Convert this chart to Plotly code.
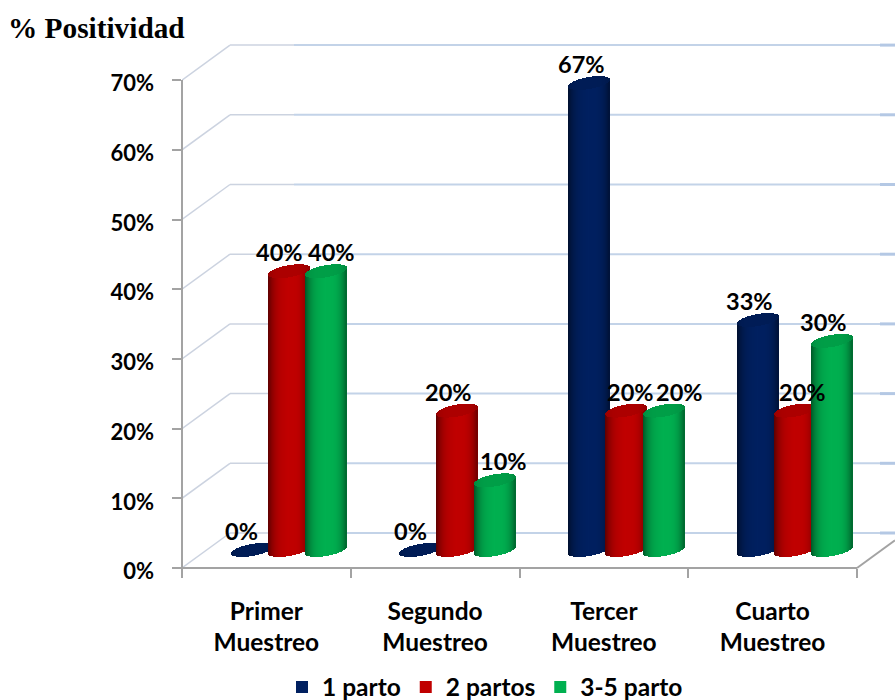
import numpy as np
import plotly.graph_objects as go

# Chart data
categories = ["Primer<br>Muestreo", "Segundo<br>Muestreo", "Tercer<br>Muestreo", "Cuarto<br>Muestreo"]
series_names = ["1 parto", "2 partos", "3-5 parto"]
uno_parto = [0, 0, 67, 33]
dos_partos = [40, 20, 20, 20]
tres_cinco_parto = [40, 10, 20, 30]
y_ticks = [0, 10, 20, 30, 40, 50, 60, 70]
y_tick_labels = ["0%", "10%", "20%", "30%", "40%", "50%", "60%", "70%"]

series_values = [uno_parto, dos_partos, tres_cinco_parto]
series_colors = [(0, 32, 96), (192, 0, 0), (0, 176, 80)]

# Pixel scale of the plot area
PX_X = 168.75          # pixels per category
PX_Y = 6.97            # pixels per percentage point
LEFT, RIGHT, TOP, BASELINE = 182, 895, 43, 568
BELOW = 6              # spare pixels under the baseline, room for the lowered tick labels
x_max = (RIGHT - LEFT) / PX_X
y_max = (BASELINE - TOP) / PX_Y
y_min = -BELOW / PX_Y
plot_height = BASELINE + BELOW - TOP

# Pseudo 3D box
WALL_DX = 48 / PX_X
WALL_DY = 35 / PX_Y
BAR_LIFT = 18 / PX_Y   # cylinders stand mid-way into the floor
BAR_OFFSETS = [-14.5 / PX_X, 22.5 / PX_X, 60 / PX_X]
BAR_RADIUS_PX = 20.5
CAP_RY = 6 / PX_Y
CAP_SHEAR = 3.5 / PX_Y
TICK_LABEL_DROP = 3.5 / PX_Y

FONT = "Lato"


def shade(rgb, factor):
    return "rgb({},{},{})".format(*[int(min(255, c * factor)) for c in rgb])


def cylinder(center, value, rgb):
    """Thin vertical strips forming the body and top cap of one cylinder."""
    px = np.arange(-BAR_RADIUS_PX + 0.5, BAR_RADIUS_PX, 1.0)
    t = px / BAR_RADIUS_PX
    arc = CAP_RY * np.sqrt(1 - t ** 2)
    x = center + px / PX_X
    top = value + BAR_LIFT + CAP_SHEAR * t
    bottom = BAR_LIFT + CAP_SHEAR * t - arc
    body_shade = [shade(rgb, 1.0 - 0.42 * abs(v) ** 3.5 - (0.10 * max(-v, 0))) for v in t]
    cap_shade = [shade(rgb, 0.90 - 0.12 * abs(v) ** 4) for v in t]
    return x, bottom, top, arc, body_shade, cap_shade


fig = go.Figure()

for name, values, rgb, offset in zip(series_names, series_values, series_colors, BAR_OFFSETS):
    for i, value in enumerate(values):
        x, bottom, top, arc, body_shade, cap_shade = cylinder(i + 0.5 + offset, value, rgb)
        fig.add_trace(go.Bar(
            x=x, y=top - bottom, base=bottom, width=1.35 / PX_X,
            marker=dict(color=body_shade, line_width=0),
            showlegend=False, hoverinfo="skip",
        ))
        fig.add_trace(go.Bar(
            x=x, y=2 * arc, base=top - arc, width=1.35 / PX_X,
            marker=dict(color=cap_shade, line_width=0),
            showlegend=False, hoverinfo="skip",
        ))

# Legend entries
for name, rgb in zip(series_names, series_colors):
    fig.add_trace(go.Scatter(
        x=[None], y=[None], mode="markers", name=name,
        marker=dict(symbol="square", size=14, color=shade(rgb, 1)),
    ))

# Empty trace that keeps the label-only y axis alive
fig.add_trace(go.Scatter(x=[None], y=[None], yaxis="y2", showlegend=False, hoverinfo="skip"))

# Value labels, nudged sideways where neighbouring labels would collide
label_dx = [[-10, -10, -8, -9], [-9, -9, 4, 7], [5, 8, 16, -9]]
annotations = []
for values, offset, dxs in zip(series_values, BAR_OFFSETS, label_dx):
    for i, (value, dx) in enumerate(zip(values, dxs)):
        annotations.append(dict(
            x=i + 0.5 + offset, y=value + BAR_LIFT, text=f"{value}%",
            xref="x", yref="y", showarrow=False, xshift=dx, yshift=19,
            font=dict(family=FONT, size=23.5, color="black", weight=700),
        ))

# Walls, floor edge and axis lines
shapes = []
GRID_GREY = "#ccd3e0"
GRID_BLUE = "#c3d3e8"
GRID_EDGE = "#b4c8e4"
for v in y_ticks:
    back = v + WALL_DY
    shapes.append(dict(type="line", x0=0, y0=v, x1=WALL_DX, y1=back,
                       line=dict(color=GRID_GREY, width=1.5), layer="below"))
    shapes.append(dict(type="line", x0=WALL_DX, y0=back, x1=88 / PX_X + WALL_DX / 2, y1=back,
                       line=dict(color=GRID_GREY, width=1.5), layer="below"))
    shapes.append(dict(type="line", x0=88 / PX_X + WALL_DX / 2, y0=back, x1=x_max - 15 / PX_X, y1=back,
                       line=dict(color=GRID_BLUE, width=2), layer="below"))
    shapes.append(dict(type="line", x0=x_max - 15 / PX_X, y0=back, x1=x_max, y1=back,
                       line=dict(color=GRID_EDGE, width=3), layer="below"))
AXIS_GREY = "#a3a3a3"
shapes.append(dict(type="line", xref="x domain", yref="y", x0=0, x1=0, y0=-0.14, y1=70,
                   line=dict(color=AXIS_GREY, width=2)))
shapes.append(dict(type="line", xref="x", yref="y", x0=0, x1=4, y0=0, y1=0,
                   line=dict(color=AXIS_GREY, width=2)))
shapes.append(dict(type="line", x0=4, y0=0, x1=x_max, y1=WALL_DY * (x_max - 4) / WALL_DX,
                   line=dict(color=AXIS_GREY, width=2)))

category_font = dict(family=FONT, size=24.5, color="black", weight=700)
tick_font = dict(family=FONT, size=22, color="black", weight=700)

fig.update_layout(
    width=895, height=700, autosize=False,
    margin=dict(l=LEFT, r=0, t=TOP, b=700 - BASELINE - BELOW, pad=0, autoexpand=False),
    paper_bgcolor="white", plot_bgcolor="white",
    barmode="overlay", bargap=0,
    title=dict(
        text="% Positividad", xref="container", yref="container",
        x=8 / 895, xanchor="left", y=1 - 28 / 700, yanchor="middle",
        font=dict(family="Liberation Serif", size=29.3, color="black", weight=700),
    ),
    xaxis=dict(
        range=[0, x_max], anchor="free", position=BELOW / plot_height,
        tickmode="array", tickvals=[0.5, 1.5, 2.5, 3.5], ticktext=categories,
        ticks="", showgrid=False, zeroline=False, showline=False, tickfont=category_font,
        ticklabelstandoff=26, automargin=False,
        minor=dict(tickmode="array", tickvals=[0, 1, 2, 3, 4], ticks="outside",
                   ticklen=9, tickwidth=2, tickcolor=AXIS_GREY, showgrid=False),
    ),
    yaxis=dict(
        range=[y_min, y_max], tickmode="array", tickvals=y_ticks, showticklabels=False,
        ticks="outside", ticklen=9, tickwidth=2, tickcolor=AXIS_GREY,
        showgrid=False, zeroline=False, showline=False, automargin=False,
    ),
    yaxis2=dict(
        overlaying="y", side="left", range=[y_min, y_max], tickmode="array",
        tickvals=[v - TICK_LABEL_DROP for v in y_ticks], ticktext=y_tick_labels,
        ticks="", showgrid=False, zeroline=False, showline=False, tickfont=tick_font,
        ticklabelstandoff=27, automargin=False,
    ),
    legend=dict(
        orientation="h", x=(282 - LEFT) / (RIGHT - LEFT), xanchor="left",
        y=(BASELINE + BELOW - 687) / plot_height, yanchor="middle",
        font=category_font, itemsizing="constant", bgcolor="rgba(0,0,0,0)", traceorder="normal",
    ),
    annotations=annotations,
    shapes=shapes,
    showlegend=True,
)

fig.write_html("out.html")
